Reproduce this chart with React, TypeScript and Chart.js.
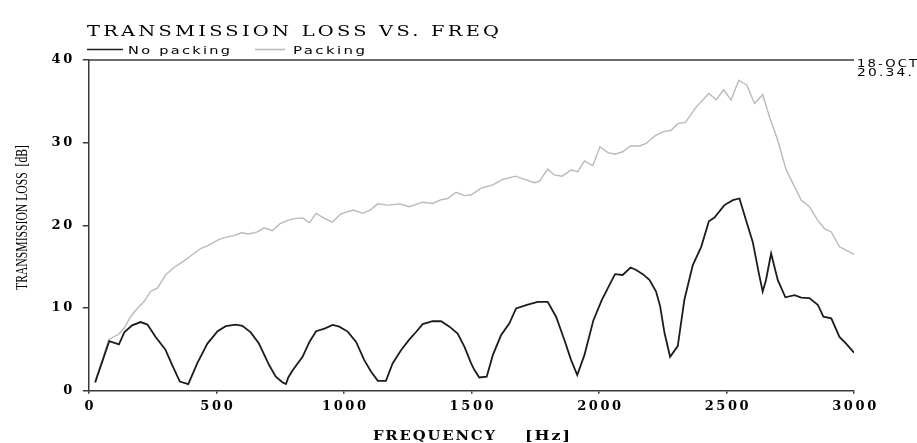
import React, { useEffect, useRef } from "react";
import { Chart, registerables } from "chart.js";

Chart.register(...registerables);

// ---- data ----
const freqNoPacking = [
  25, 80, 118, 140, 170, 203, 230, 262, 300, 327, 357, 390, 425, 465, 505, 537, 576, 602, 635, 667,
  707, 733, 760, 773, 782, 800, 838, 865, 891, 924, 956, 982, 1015, 1048, 1080, 1107, 1133, 1165,
  1191, 1224, 1257, 1283, 1309, 1348, 1381, 1414, 1446, 1473, 1499, 1512, 1531, 1560, 1584, 1616,
  1649, 1675, 1721, 1760, 1799, 1832, 1865, 1891, 1915, 1943, 1978, 2011, 2035, 2063, 2093, 2124,
  2146, 2172, 2198, 2224, 2240, 2257, 2279, 2309, 2335, 2368, 2401, 2431, 2453, 2492, 2525, 2551,
  2577, 2603, 2627, 2642, 2655, 2675, 2701, 2731, 2767, 2793, 2825, 2858, 2880, 2911, 2943, 2969, 3000,
];
const tlNoPacking = [
  1.0, 6.0, 5.6, 7.1, 7.9, 8.3, 8.0, 6.5, 5.0, 3.1, 1.1, 0.8, 3.3, 5.7, 7.2, 7.8, 8.0, 7.85, 7.05, 5.7,
  3.1, 1.7, 1.0, 0.8, 1.6, 2.5, 4.1, 5.9, 7.2, 7.5, 7.95, 7.75, 7.15, 5.9, 3.7, 2.3, 1.2, 1.2,
  3.3, 4.9, 6.2, 7.1, 8.05, 8.4, 8.4, 7.75, 6.9, 5.3, 3.3, 2.5, 1.6, 1.7, 4.3, 6.7,
  8.15, 9.95, 10.4, 10.75, 10.75, 8.95, 6.1, 3.7, 1.9, 4.3, 8.5, 10.95, 12.4, 14.1, 14.0, 14.9,
  14.6, 14.1, 13.4, 12.0, 10.2, 7.0, 4.1, 5.4, 11.0, 15.2, 17.4, 20.5, 20.95, 22.45, 23.05, 23.25,
  20.6, 18.0, 14.2, 12.0, 13.4, 16.6, 13.4, 11.3, 11.55, 11.25, 11.2, 10.4, 8.95, 8.75, 6.5, 5.7, 4.6,
];
const freqPacking = [
  25, 79, 118, 138, 164, 190, 216, 242, 269, 301, 334, 373, 399, 438, 471, 511, 543, 569, 598, 628,
  661, 687, 720, 750, 780, 812, 838, 865, 891, 924, 954, 989, 1037, 1074, 1103, 1133, 1172, 1218,
  1257, 1309, 1348, 1381, 1407, 1440, 1473, 1500, 1538, 1584, 1623, 1673, 1714, 1747, 1767, 1799,
  1825, 1856, 1891, 1917, 1943, 1976, 2004, 2035, 2063, 2093, 2124, 2159, 2185, 2218, 2250, 2283,
  2309, 2339, 2381, 2431, 2460, 2489, 2518, 2548, 2580, 2610, 2642, 2669, 2701, 2734, 2760, 2793,
  2825, 2858, 2884, 2911, 2943, 2969, 3000,
];
const tlPacking = [
  1.2, 6.2, 6.85, 7.55, 8.95, 9.95, 10.75, 12.0, 12.4, 14.0, 14.9, 15.7, 16.3, 17.2, 17.6, 18.3, 18.6, 18.75, 19.1, 18.95,
  19.2, 19.7, 19.35, 20.2, 20.6, 20.85, 20.9, 20.3, 21.45, 20.85, 20.4, 21.4, 21.85, 21.45, 21.85, 22.6, 22.45, 22.6,
  22.25, 22.8, 22.65, 23.1, 23.25, 24.0, 23.6, 23.7, 24.5, 24.9, 25.55, 25.95, 25.5, 25.15, 25.35, 26.8,
  26.1, 25.95, 26.7, 26.5, 27.8, 27.2, 29.5, 28.8, 28.6, 28.9, 29.6, 29.6, 29.9, 30.8, 31.3, 31.5,
  32.3, 32.45, 34.3, 35.95, 35.2, 36.4, 35.15, 37.55, 36.95, 34.75, 35.8, 33.1, 30.3, 26.7, 25.1, 23.05,
  22.25, 20.6, 19.6, 19.2, 17.4, 17.0, 16.5,
];
const seriesLabels = ["No packing", "Packing"];
const xRange = [0, 3000];
const xStep = 500;
const yRange = [0, 40];
const yStep = 10;
const titleText = "TRANSMISSION LOSS VS. FREQ";
const xTitleText = "FREQUENCY";
const xUnitText = "[Hz]";
const yTitleText = "TRANSMISSION LOSS  [dB]";
const stampLines = ["18-OCT", "20.34."];

const AXIS_COLOR = "#3a3a3a";
const BLACK_LINE = "#1c1c1c";
const GRAY_LINE = "#b9b9b9";

// draws text with a small letter spacing, then stretches it horizontally to a target width
function fitText(
  ctx: CanvasRenderingContext2D,
  text: string,
  x: number,
  y: number,
  width: number,
  font: string,
  color: string,
  spacing: number
) {
  ctx.save();
  ctx.font = font;
  (ctx as any).letterSpacing = spacing + "px";
  const w0 = ctx.measureText(text).width - spacing;
  ctx.translate(x, y);
  ctx.scale(width / w0, 1);
  ctx.fillStyle = color;
  ctx.textAlign = "left";
  ctx.textBaseline = "alphabetic";
  ctx.fillText(text, 0, 0);
  ctx.restore();
}

const decorPlugin = {
  id: "decor",
  beforeDraw(chart: any) {
    (chart.ctx as any).letterSpacing = "2.6px";
  },
  beforeDatasetsDraw(chart: any) {
    (chart.ctx as any).letterSpacing = "0px";
  },
  afterDraw(chart: any) {
    const ctx: CanvasRenderingContext2D = chart.ctx;
    const area = chart.chartArea;
    ctx.save();
    (ctx as any).letterSpacing = "0px";
    // top frame line
    ctx.strokeStyle = AXIS_COLOR;
    ctx.lineWidth = 1.5;
    ctx.beginPath();
    ctx.moveTo(area.left, area.top);
    ctx.lineTo(area.right, area.top);
    ctx.stroke();

    // title
    fitText(ctx, titleText, 87, 36, 412, "15px 'DejaVu Serif'", "#000", 2.5);

    // legend
    ctx.lineWidth = 1.5;
    ctx.strokeStyle = BLACK_LINE;
    ctx.beginPath();
    ctx.moveTo(87, 49.5);
    ctx.lineTo(123, 49.5);
    ctx.stroke();
    fitText(ctx, seriesLabels[0], 128, 53.5, 102, "10px 'DejaVu Sans'", "#000", 1.6);
    ctx.strokeStyle = GRAY_LINE;
    ctx.beginPath();
    ctx.moveTo(255, 49.5);
    ctx.lineTo(285, 49.5);
    ctx.stroke();
    fitText(ctx, seriesLabels[1], 293, 53.5, 72, "10px 'DejaVu Sans'", "#000", 1.6);

    // date stamp
    fitText(ctx, stampLines[0], 857, 67, 60, "10px 'DejaVu Sans'", "#000", 1.6);
    fitText(ctx, stampLines[1], 857, 75.5, 55, "10px 'DejaVu Sans'", "#000", 1.6);

    // x title
    fitText(ctx, xTitleText, 373, 440, 122, "bold 12px 'DejaVu Serif'", "#000", 1.5);
    fitText(ctx, xUnitText, 525, 440, 45, "bold 12px 'DejaVu Serif'", "#000", 1.5);

    // y title (rotated, condensed)
    ctx.save();
    ctx.translate(23, 217.5);
    ctx.rotate(-Math.PI / 2);
    ctx.font = "17px 'Liberation Serif'";
    const w = ctx.measureText(yTitleText).width;
    ctx.scale(145 / w, 1);
    ctx.fillStyle = "#000";
    ctx.textAlign = "center";
    ctx.textBaseline = "middle";
    ctx.fillText(yTitleText, 0, 0);
    ctx.restore();

    ctx.restore();
  },
};

export default function App() {
  const ref = useRef<HTMLCanvasElement | null>(null);

  useEffect(() => {
    if (!ref.current) return;
    const tickFont = { family: "'DejaVu Serif'", size: 13, weight: "bold" as const };
    const plain = (v: any) => String(v);
    const chart = new Chart(ref.current, {
      type: "scatter",
      data: {
        datasets: [
          {
            label: seriesLabels[0],
            data: freqNoPacking.map((x, i) => ({ x, y: tlNoPacking[i] })),
            showLine: true,
            borderColor: BLACK_LINE,
            borderWidth: 1.8,
            pointRadius: 0,
            tension: 0,
          },
          {
            label: seriesLabels[1],
            data: freqPacking.map((x, i) => ({ x, y: tlPacking[i] })),
            showLine: true,
            borderColor: GRAY_LINE,
            borderWidth: 1.4,
            pointRadius: 0,
            tension: 0,
          },
        ],
      },
      options: {
        responsive: false,
        animation: false,
        devicePixelRatio: 1,
        layout: { padding: { top: 60, right: 63, left: 0, bottom: 0 } },
        plugins: {
          legend: { display: false },
          title: { display: false },
          tooltip: { enabled: false },
        },
        scales: {
          x: {
            type: "linear",
            min: xRange[0],
            max: xRange[1],
            ticks: {
              stepSize: xStep,
              color: "#000",
              font: tickFont,
              padding: 5,
              maxRotation: 0,
              labelOffset: 1.5,
              callback: plain,
            },
            grid: {
              display: true,
              drawOnChartArea: false,
              drawTicks: true,
              tickLength: 3,
              color: AXIS_COLOR,
              lineWidth: 1.5,
            },
            border: { display: true, color: AXIS_COLOR, width: 1.5 },
            afterFit: (s: any) => {
              s.height = 52.3;
            },
          },
          y: {
            min: yRange[0],
            max: yRange[1],
            ticks: { stepSize: yStep, color: "#000", font: tickFont, padding: 8, callback: plain },
            grid: {
              display: true,
              drawOnChartArea: false,
              drawTicks: true,
              tickLength: 6,
              color: AXIS_COLOR,
              lineWidth: 1.5,
            },
            border: { display: true, color: AXIS_COLOR, width: 1.5 },
            afterFit: (s: any) => {
              s.width = 88.8;
            },
          },
        },
      },
      plugins: [decorPlugin],
    });
    return () => chart.destroy();
  }, []);

  return (
    <div style={{ position: "fixed", left: 0, top: 0, width: 917, height: 443, background: "#fff" }}>
      <canvas ref={ref} width={917} height={443} style={{ display: "block" }} />
    </div>
  );
}
